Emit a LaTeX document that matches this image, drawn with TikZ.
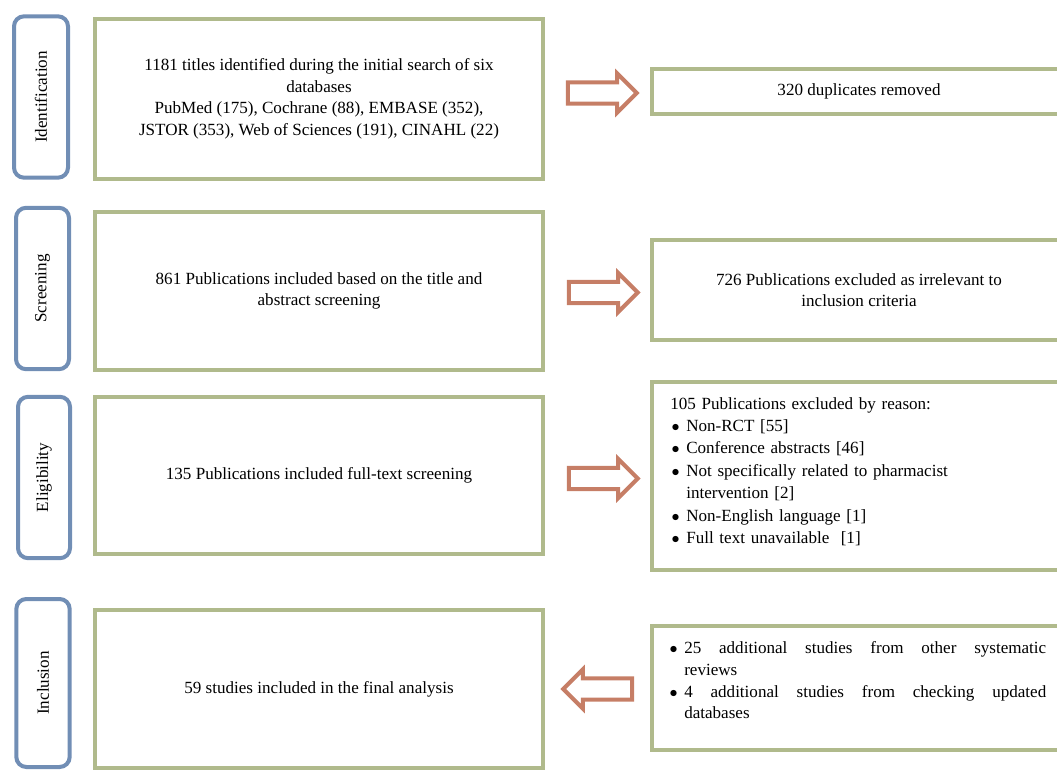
\documentclass[tikz,border=0pt]{standalone}
\usepackage{fontspec}
\setmainfont{Liberation Serif}
\usetikzlibrary{shapes.arrows, positioning}
\definecolor{tabblue}{RGB}{113,142,181}
\definecolor{boxgreen}{RGB}{176,186,140}
\definecolor{arrowred}{RGB}{198,126,102}
\newcommand{\bitem}[1]{\par\noindent\hangindent=12pt\hangafter=1\makebox[12pt][l]{\hspace{1pt}$\bullet$}#1\par}

\begin{document}
\begin{tikzpicture}[x=0.75pt, y=-0.75pt,
  every node/.style={font=\fontsize{12.8}{16.2}\selectfont},
  tab/.style={draw=tabblue, line width=3pt, rounded corners=7.5pt, rotate=90, minimum width=121pt, minimum height=40pt},
  box/.style={draw=boxgreen, line width=3pt, minimum width=336pt, align=center},
  sidebox/.style={draw=boxgreen, line width=3pt, minimum width=310.5pt, align=center},
  blockarr/.style={single arrow, draw=arrowred, line width=3pt, inner sep=6.4pt, minimum height=51.75pt, single arrow head extend=6.8pt}
]
\useasboundingbox (0,0) rectangle (1057,770);
\clip (0,0) rectangle (1057,770);

% stages
\node[tab, minimum height=40.5pt] (ident) at (41,97) {Identification};
\node[tab, minimum height=39.75pt] (screenstage) at (42.5,288.5) {Screening};
\node[tab, minimum height=39pt] (eligstage) at (44,477.5) {Eligibility};
\node[tab, minimum width=126pt] (inclstage) at (43,683) {Inclusion};

% main column
\node[box, minimum height=120pt] (search) at (319,99) {1181 titles identified during the initial search of six\\databases\\PubMed (175), Cochrane (88), EMBASE (352),\\JSTOR (353), Web of Sciences (191), CINAHL (22)};
\node[box, minimum height=118.5pt] (titles) at (319,291) {861 Publications included based on the title and\\abstract screening};
\node[box, minimum height=117.75pt] (fulltext) at (319,475.5) {135 Publications included full-text screening};
\node[box, minimum height=118.5pt] (final) at (319,689) {59 studies included in the final analysis};

% side column
\node[sidebox, minimum height=33.75pt] (dup) at (859,91.5) {320 duplicates removed};
\node[sidebox, minimum height=75pt] (irrel) at (859,290) {726 Publications excluded as irrelevant to\\inclusion criteria};
\node[sidebox, minimum height=141pt] (reason) at (859,476) {};
\node[sidebox, minimum height=93pt] (extra) at (859,688) {};

\node[anchor=north west, text width=250pt, align=left, inner sep=0pt, font=\fontsize{12.8}{16.8}\selectfont] (reasonlist) at (670,397)
  {105 Publications excluded by reason:\par
   \bitem{Non-RCT [55]}
   \bitem{Conference abstracts [46]}
   \bitem{Not specifically related to pharmacist\newline intervention [2]}
   \bitem{Non-English language [1]}
   \bitem{Full text unavailable\ \ [1]}};
\node[anchor=north west, text width=283.5pt, align=justify, inner sep=0pt] (extralist) at (668,632)
  {\bitem{25 additional studies from other systematic\linebreak reviews}
   \bitem{4 additional studies from checking updated\linebreak databases}};

% block arrows
\node[blockarr] (arr1) at (597,93) {};
\node[blockarr] (arr2) at (598,292.5) {};
\node[blockarr] (arr3) at (598,478.5) {};
\node[blockarr, shape border rotate=180] (arr4) at (603,689) {};
\end{tikzpicture}
\end{document}
